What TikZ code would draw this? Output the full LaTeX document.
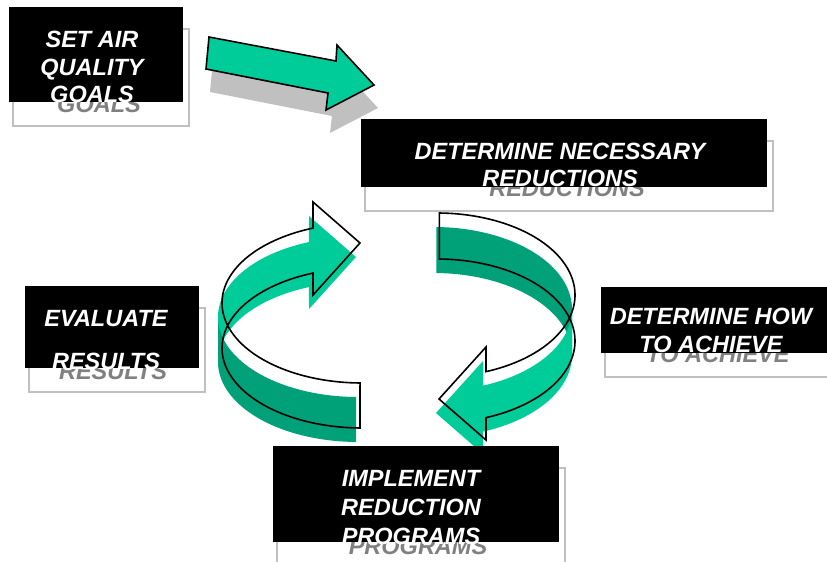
\documentclass[tikz,border=0pt]{standalone}
\usepackage{fontspec}
\setmainfont{Liberation Sans}
\usepackage{tikz}
\definecolor{greenlight}{RGB}{0,204,153}
\definecolor{greendark}{RGB}{0,161,121}
\definecolor{shadowgray}{RGB}{192,192,192}
\definecolor{textgray}{RGB}{128,128,128}
\tikzstyle{stepbox}=[fill=black]
\tikzstyle{boxshadow}=[draw=shadowgray, line width=1.8pt]
\tikzstyle{steptext}=[text=white, align=center, inner sep=0pt, anchor=north]
\tikzstyle{shadowfill}=[fill=shadowgray]
\tikzstyle{greenfill}=[fill=greenlight, draw=black, line width=1.6pt]
\tikzstyle{arrowline}=[draw=black, line width=1.6pt]
\begin{document}
\begin{tikzpicture}[x=1pt, y=-1pt]
      \useasboundingbox (0,0) rectangle (827,562);
      \clip (0,0) rectangle (827,562);
      % Block arrow from the goals to the reductions, with its shadow
      \foreach \dx/\dy/\sty in {4/23/shadowfill, 0/0/greenfill}
        \path[\sty, shift={(\dx,\dy)}] (209,37) -- (336,61) -- (337,45) -- (374,85)
          -- (326,110) -- (328,93) -- (206,69) -- cycle;
      %
      % Left loop arrow: green faces, then the outline
      \begin{scope}[shift={(-4,14)}]
        \fill[greenlight] plot[domain=180:249.5, samples=40] ({362+140*cos(\x)},{303+80*sin(\x)})
          -- (313,202) -- (360,243) -- (313,295)
          -- plot[domain=249.5:180, samples=40] ({362+140*cos(\x)},{348+80*sin(\x)}) -- cycle;
        \fill[greendark] plot[domain=90.8:180, samples=40] ({362+140*cos(\x)},{303+80*sin(\x)})
          -- plot[domain=180:90.8, samples=40] ({362+140*cos(\x)},{348+80*sin(\x)}) -- cycle;
      \end{scope}
      \draw[arrowline] plot[domain=90.8:249.5, samples=80] ({362+140*cos(\x)},{303+80*sin(\x)})
        -- (313,202) -- (360,243) -- (313,295)
        -- plot[domain=249.5:90.8, samples=80] ({362+140*cos(\x)},{348+80*sin(\x)}) -- cycle;
      %
      % Right loop arrow
      \begin{scope}[shift={(-3,14)}]
        \fill[greendark] plot[domain=-89:0, samples=40] ({437+138*cos(\x)},{295+82*sin(\x)})
          -- plot[domain=0:-89, samples=40] ({437+138*cos(\x)},{341+82*sin(\x)}) -- cycle;
        \fill[greenlight] plot[domain=0:69.2, samples=40] ({437+138*cos(\x)},{295+82*sin(\x)})
          -- (486,347) -- (439,399) -- (486,440)
          -- plot[domain=69.2:0, samples=40] ({437+138*cos(\x)},{341+82*sin(\x)}) -- cycle;
      \end{scope}
      \draw[arrowline] plot[domain=-89:69.2, samples=80] ({437+138*cos(\x)},{295+82*sin(\x)})
        -- (486,347) -- (439,399) -- (486,440)
        -- plot[domain=69.2:-89, samples=80] ({437+138*cos(\x)},{341+82*sin(\x)}) -- cycle;
      %
      % Steps: shadow frame, shadow text, black box, white text
      \foreach \name/\xa/\ya/\xb/\yb/\tx/\ty/\lsep/\txt in {
          goals/9/7/183/102/92/31/27.5/{SET AIR\\QUALITY\\GOALS},
          reductions/361/119/767/187/560/143/27/{DETERMINE NECESSARY\\REDUCTIONS},
          evaluate/25/286/199/368/106/310/43/{EVALUATE\\RESULTS},
          achieve/601/287/835/353/711/308/28/{DETERMINE HOW\\TO ACHIEVE},
          implement/273/446/559/542/411/470/29/{IMPLEMENT\\REDUCTION\\PROGRAMS}}
      {
        \draw[boxshadow] (\xa+4,\ya+22) rectangle (\xb+6,\yb+24);
        \node[steptext, text=textgray, font={\fontsize{23.5}{\lsep}\selectfont\bfseries\itshape}]
          (\name-shadow) at (\tx+7,\ty+10) {\txt};
        \fill[stepbox] (\xa,\ya) rectangle (\xb,\yb);
        \node[steptext, font={\fontsize{23.5}{\lsep}\selectfont\bfseries\itshape}]
          (\name) at (\tx,\ty) {\txt};
      }
    \end{tikzpicture}
\end{document}
